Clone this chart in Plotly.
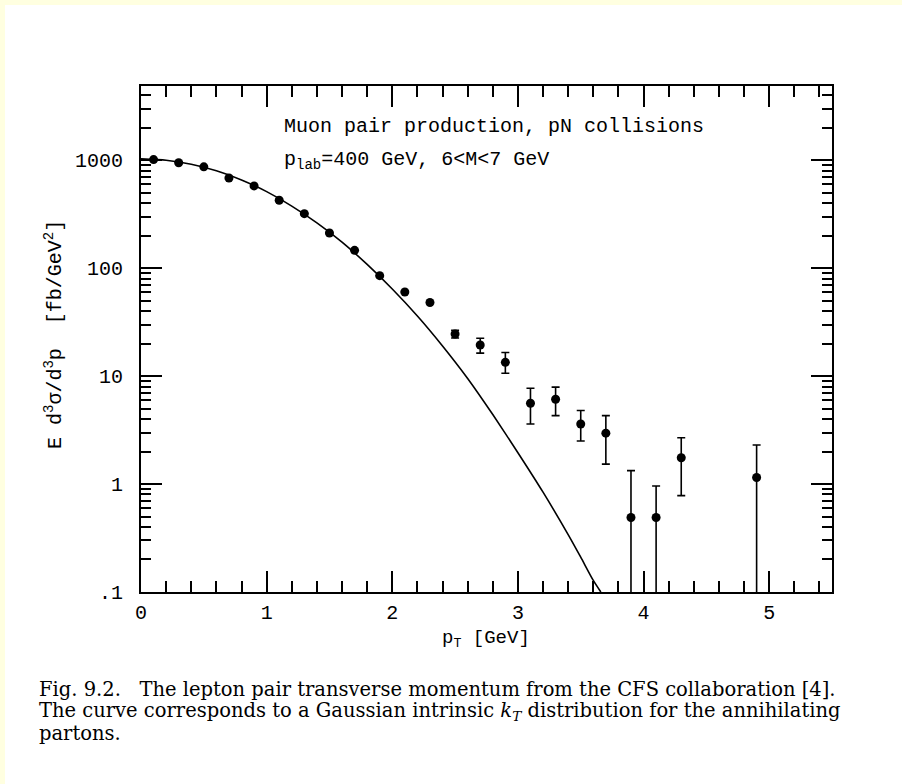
import plotly.graph_objects as go

# CFS muon pair data: pN collisions, p_lab = 400 GeV, 6 < M < 7 GeV
pt_data = [0.1, 0.3, 0.5, 0.7, 0.9, 1.1, 1.3, 1.5, 1.7, 1.9, 2.1, 2.3,
           2.5, 2.7, 2.9, 3.1, 3.3, 3.5, 3.7, 3.9, 4.1, 4.3, 4.9]
xsec = [1010, 945, 866, 683, 576, 425, 319, 211, 146, 85, 60, 48,
        24.5, 19.4, 13.4, 5.6, 6.1, 3.6, 2.96, 0.49, 0.49, 1.75, 1.15]
err_up = [0, 0, 0, 0, 0, 0, 0, 0, 0, 0, 0, 0,
          2.0, 3.0, 3.1, 2.1, 1.8, 1.2, 1.34, 0.84, 0.47, 0.93, 1.15]
err_down = [0, 0, 0, 0, 0, 0, 0, 0, 0, 0, 0, 0,
            2.0, 3.1, 2.8, 2.0, 1.8, 1.1, 1.43, 0.49, 0.49, 0.97, 1.15]

# Gaussian intrinsic k_T prediction
pt_curve = [0.0, 0.2, 0.4, 0.6, 0.8, 1.0, 1.2, 1.4, 1.6, 1.8, 2.0, 2.2,
            2.4, 2.6, 2.8, 3.0, 3.2, 3.4, 3.5, 3.6, 3.66]
curve = [1025, 995, 915, 795, 655, 510, 375, 262, 174, 108, 64, 36,
         19, 9.5, 4.4, 1.95, 0.84, 0.34, 0.21, 0.128, 0.1]

# axis ticks
x_tick_vals = [0, 1, 2, 3, 4, 5]
y_tick_vals = [0.1, 1, 10, 100, 1000]
y_tick_text = [".1", "1", "10", "100", "1000"]
y_minor_vals = [m * 10.0 ** e for e in range(-1, 4) for m in range(2, 10)]

MONO = "Liberation Mono"
SERIF = "DejaVu Serif"

fig = go.Figure()
fig.add_trace(go.Scatter(
    x=pt_curve, y=curve, mode="lines",
    line=dict(color="black", width=1.6, shape="spline", smoothing=0.6),
    hoverinfo="skip", showlegend=False,
))
fig.add_trace(go.Scatter(
    x=pt_data, y=xsec, mode="markers",
    marker=dict(color="black", size=9),
    error_y=dict(type="data", symmetric=False, array=err_up, arrayminus=err_down,
                 color="black", thickness=1.6, width=4),
    showlegend=False,
))

axis_common = dict(
    showline=True, linewidth=2, linecolor="black", mirror="ticks",
    ticks="inside", ticklen=21, tickwidth=2, tickcolor="black",
    showgrid=False, zeroline=False,
    tickfont=dict(family=MONO, size=20, color="black"),
)

fig.update_xaxes(
    range=[0, 5.5], tickmode="array", tickvals=x_tick_vals,
    minor=dict(dtick=0.2, tick0=0, ticks="inside", ticklen=11, tickwidth=2,
               tickcolor="black", showgrid=False),
    ticklabelstandoff=1,
    **axis_common,
)
fig.update_yaxes(
    type="log", range=[-1, 3.686],
    tickmode="array", tickvals=y_tick_vals, ticktext=y_tick_text,
    minor=dict(tickmode="array", tickvals=y_minor_vals, ticks="inside",
               ticklen=10, tickwidth=2, tickcolor="black", showgrid=False),
    ticklabelstandoff=12,
    **axis_common,
)

L, R, T, B = 141, 70, 86, 192
W, H = 902, 784
pw, ph = W - L - R, H - T - B


def px(x):
    return (x - L) / pw


def py(y):
    return (H - B - y) / ph


annotations = [
    dict(text="Muon pair production, pN collisions", x=px(282), y=py(127),
         xanchor="left", yanchor="middle", font=dict(family=MONO, size=20)),
    dict(text="p<sub>lab</sub>=400 GeV, 6&lt;M&lt;7 GeV", x=px(282), y=py(160),
         xanchor="left", yanchor="middle", font=dict(family=MONO, size=20)),
    dict(text="p<sub>T</sub> [GeV]", x=px(486), y=py(639),
         xanchor="center", yanchor="middle", font=dict(family=MONO, size=19)),
    dict(text="E d<sup>3</sup>σ/d<sup>3</sup>p  [fb/GeV<sup>2</sup>]", x=px(54), y=py(335),
         xanchor="center", yanchor="middle", textangle=-90,
         font=dict(family=MONO, size=20)),
    dict(text="Fig. 9.2.   The lepton pair transverse momentum from the CFS collaboration [4].",
         x=px(37), y=py(689), xanchor="left", yanchor="middle",
         font=dict(family=SERIF, size=19.5)),
    dict(text="The curve corresponds to a Gaussian intrinsic <i>k<sub>T</sub></i> distribution for the annihilating",
         x=px(37), y=py(711), xanchor="left", yanchor="middle",
         font=dict(family=SERIF, size=19.5)),
    dict(text="partons.", x=px(37), y=py(733), xanchor="left", yanchor="middle",
         font=dict(family=SERIF, size=19.5)),
]
for a in annotations:
    a.update(xref="paper", yref="paper", showarrow=False)
    a["font"]["color"] = "black"

fig.update_layout(
    width=W, height=H,
    margin=dict(l=L, r=R, t=T, b=B, pad=0),
    paper_bgcolor="#FFFFE0", plot_bgcolor="white",
    annotations=annotations,
    shapes=[dict(type="rect", xref="paper", yref="paper",
                 x0=px(5), x1=px(W + 10), y0=py(H + 10), y1=py(5),
                 fillcolor="white", line=dict(width=0), layer="below")],
)

fig.write_html("out.html")
